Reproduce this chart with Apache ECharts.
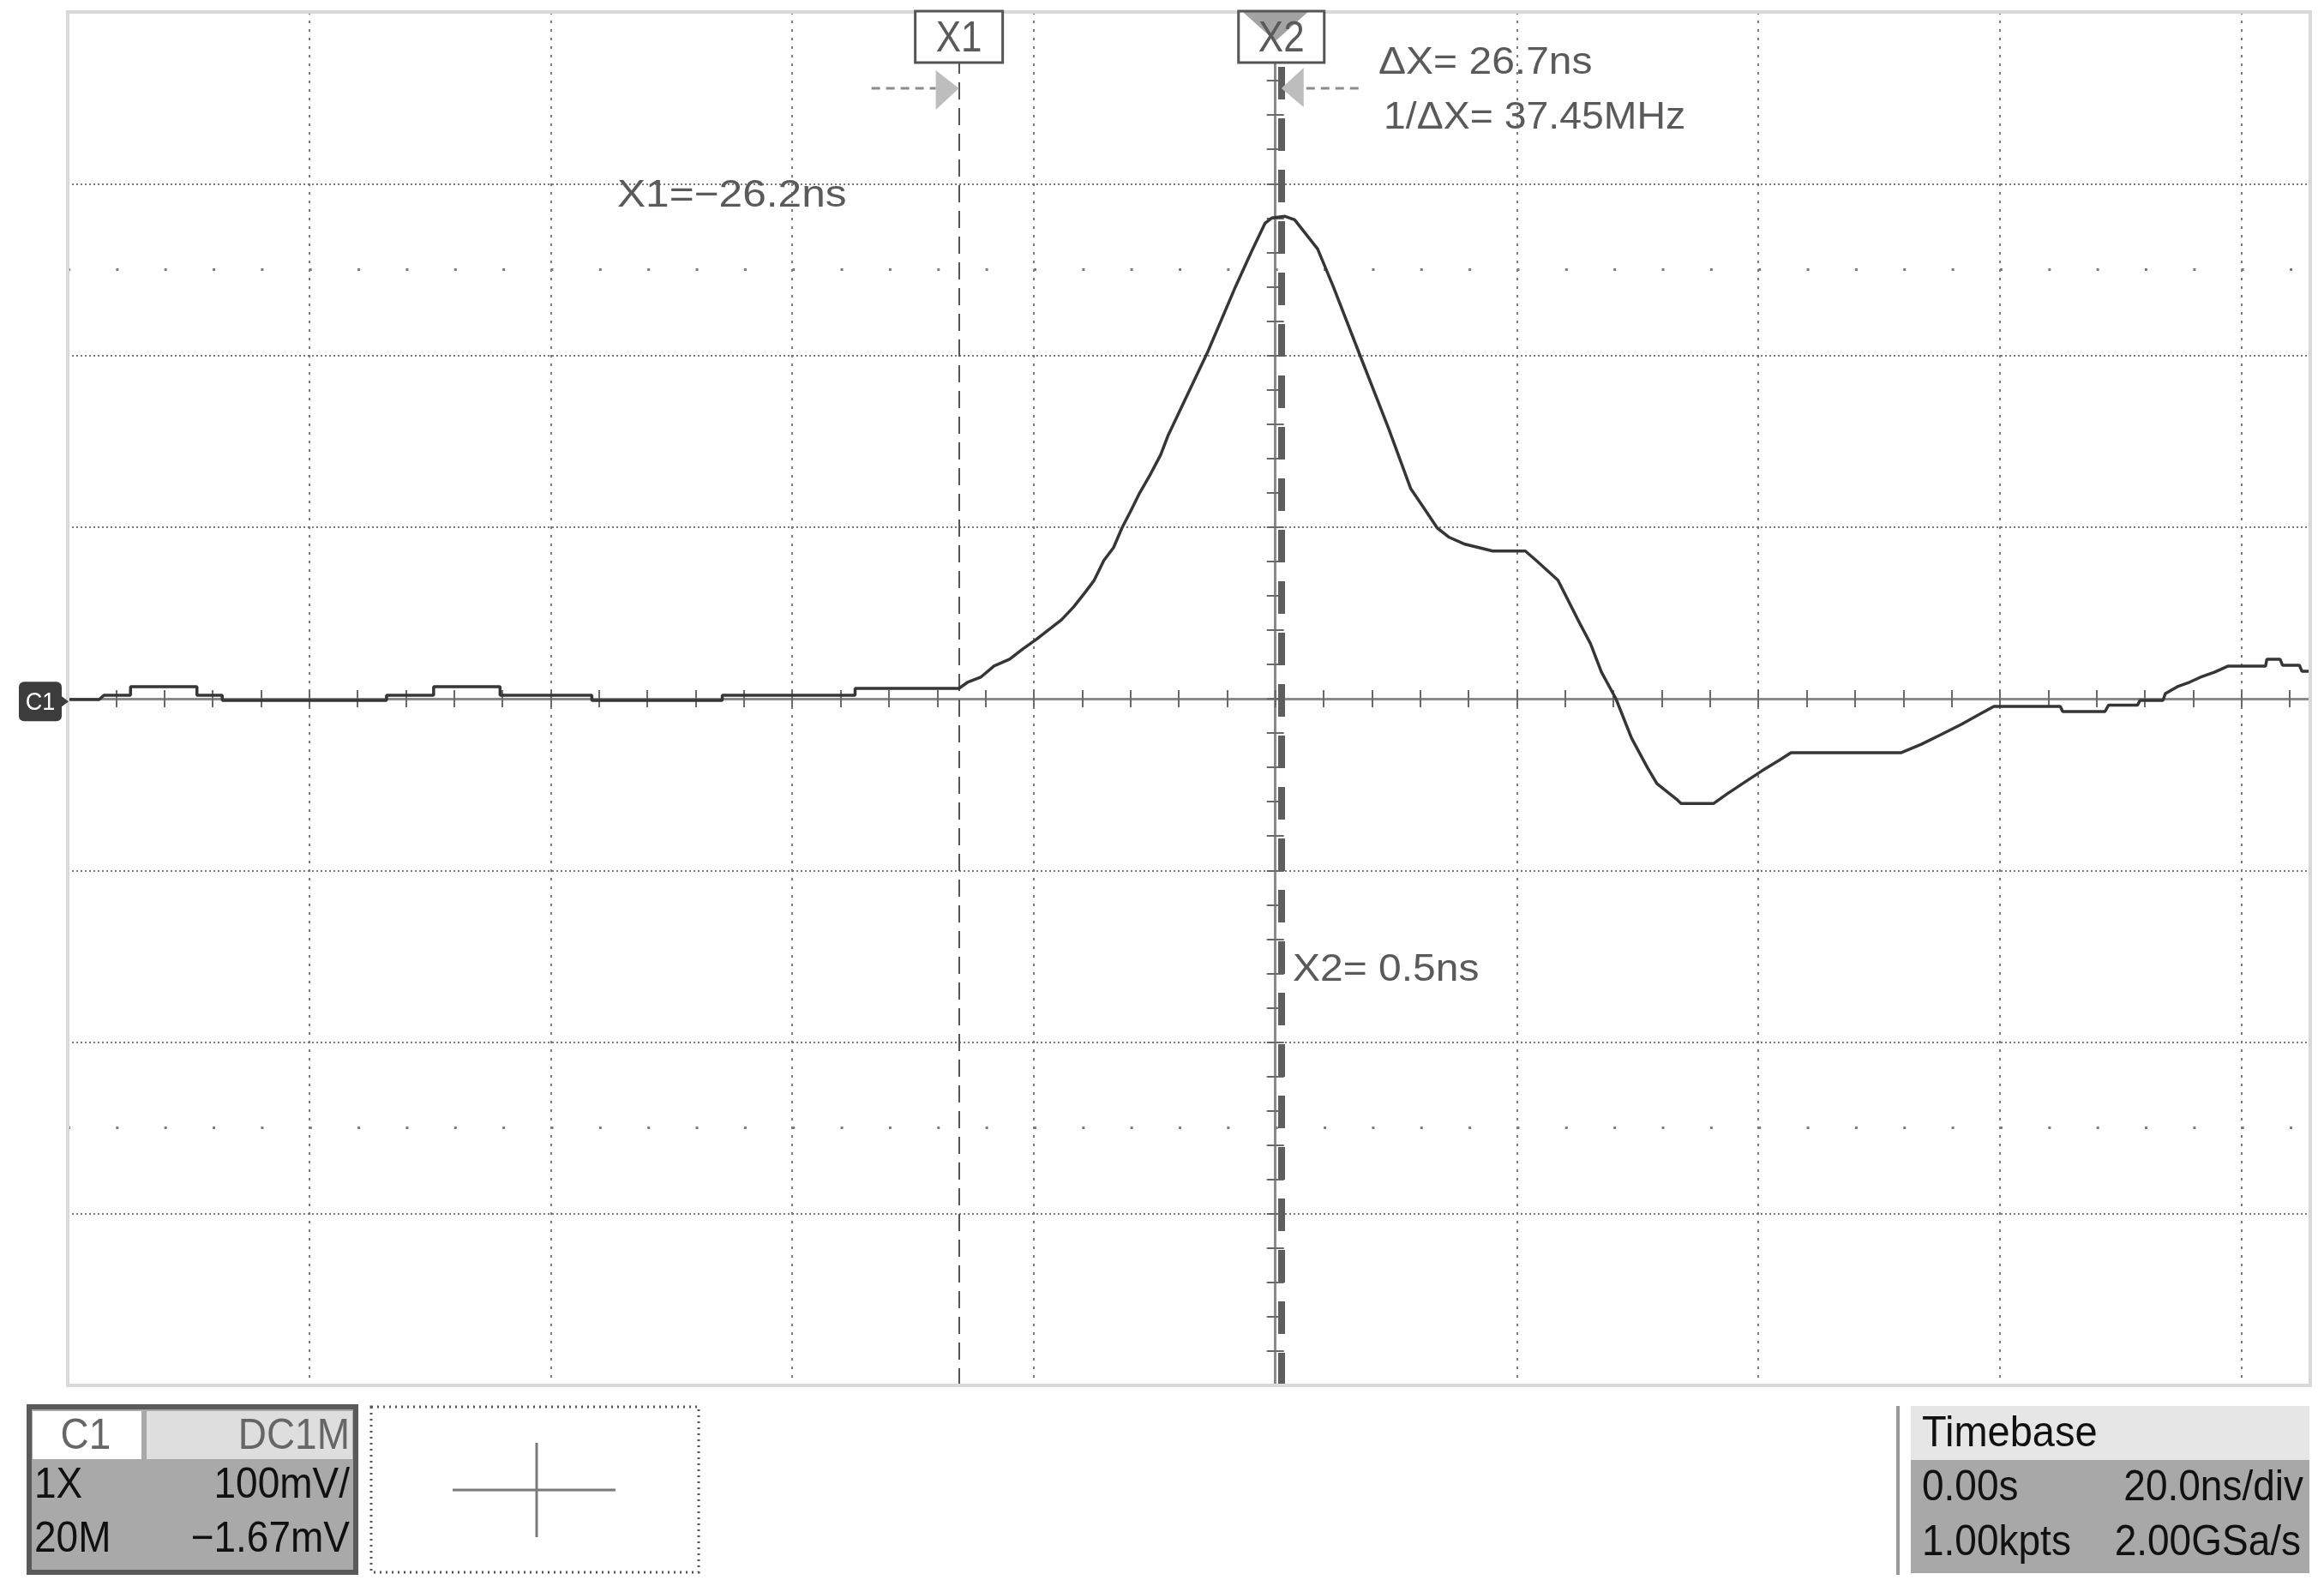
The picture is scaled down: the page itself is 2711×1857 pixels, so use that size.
<!DOCTYPE html>
<html>
<head>
<meta charset="utf-8">
<title>C1 pulse</title>
<script src="https://cdn.jsdelivr.net/npm/echarts@6.0.0/dist/echarts.min.js"></script>
<style>
  html, body { margin: 0; padding: 0; background: #fff; }
  #main { width: 2711px; height: 1857px; }
</style>
</head>
<body>
<div id="main"></div>
<script>
// trace: time in ns, level in mV
const traceTimeNs = [
  -100, -97.4, -97.0, -94.8, -94.8, -89.3, -89.3, -87.2, -87.2, -73.6,
  -73.6, -69.7, -69.7, -64.2, -64.2, -56.6, -56.6, -45.8, -45.8, -34.8,
  -34.8, -26.2, -25.5, -24.4, -23.3, -22.0, -20.9, -19.8, -18.8, -17.7,
  -16.7, -15.8, -15.0, -14.2, -13.4, -12.7, -12.0, -11.3, -10.4, -9.5,
  -8.9, -5.6, -3.3, -2.0, -0.85, -0.3, 0.8, 1.6, 3.5, 4.8,
  6.9, 9.4, 11.2, 12.5, 13.4, 14.4, 15.7, 18.0, 20.7, 21.6,
  23.4, 25.2, 26.1, 27.0, 28.2, 29.5, 30.8, 31.6, 33.3, 33.6,
  36.3, 37.4, 39.0, 40.3, 41.7, 42.7, 51.8, 53.5, 55.1, 56.8,
  58.2, 59.5, 65.0, 65.2, 68.7, 69.0, 71.4, 71.6, 73.5, 73.7,
  74.7, 75.7, 76.6, 77.8, 78.9, 82.0, 82.1, 83.2, 83.4, 84.8,
  85.0, 85.7
];
const traceMv = [
  -0.5, -0.5, 2, 2, 7, 7, 2, 2, -1, -1,
  2, 2, 7, 7, 2, 2, -1, -1, 2, 2,
  6, 6, 9.5, 12.5, 19, 23, 29, 34.5, 40, 46,
  53.5, 61.5, 69, 80.5, 88, 99.5, 109, 119, 130, 142,
  153, 202, 240, 260, 277, 280, 281, 279, 262, 240,
  202, 157, 122.5, 109, 99.5, 94, 90, 86, 86, 80.5,
  69, 44, 32, 15.5, 0, -23, -40, -49.5, -59, -61,
  -61, -55.5, -48, -42, -36, -31.5, -31.5, -26.5, -21, -15,
  -9.5, -4.5, -4.5, -7.5, -7.5, -3.7, -3.7, -1, -1, 3,
  7, 9.6, 12.5, 15.5, 19, 19, 23, 23, 19.5, 19.5,
  16, 16
];

// screen settings
const timeMin = -100, timeMax = 85.7, timePerDiv = 20;
const mvMin = -400, mvMax = 400, mvPerDiv = 100;
const cursorX1 = -26.2, cursorX2 = 0.5;
const markerRowsMv = [250, -250];
const channelOffsetMv = -1.67;

const cursorTexts = ['X1=\u221226.2ns', 'X2= 0.5ns', '\u0394X= 26.7ns', '1/\u0394X= 37.45MHz'];
const channelInfo = ['C1', 'DC1M', '1X', '100mV/', '20M', '\u22121.67mV'];
const timebaseInfo = ['Timebase', '0.00s', '20.0ns/div', '1.00kpts', '2.00GSa/s'];

const FONT = '"Liberation Sans", Arial, sans-serif';
const gridBox = { left: 79, right: 16, top: 14, bottom: 241 };
const plotW = 2711 - gridBox.left - gridBox.right;
const pxPerNs = plotW / (timeMax - timeMin);
const minorPx = pxPerNs * timePerDiv / 5;

const data = traceTimeNs.map((t, i) => [t, traceMv[i]]);

function axisCommon(isX, withSplit, tickInside) {
  return {
    type: 'value',
    min: isX ? timeMin : mvMin,
    max: isX ? timeMax : mvMax,
    interval: isX ? timePerDiv : mvPerDiv,
    axisLine: { show: true, onZero: true, lineStyle: { color: '#8a8a8a', width: 3 } },
    axisTick: { show: true, inside: tickInside, length: 10, lineStyle: { color: '#6a6a6a', width: 2 } },
    minorTick: { show: true, splitNumber: 5, length: 10, lineStyle: { color: '#6a6a6a', width: 2 } },
    axisLabel: { show: false },
    splitLine: {
      show: withSplit,
      lineStyle: { color: '#7c7c7c', width: 2, type: isX ? [3, 7] : [2, 3] }
    },
    minorSplitLine: { show: false }
  };
}

const chart = echarts.init(document.getElementById('main'));

chart.setOption({
  animation: false,
  backgroundColor: '#fff',
  grid: Object.assign({ containLabel: false, outerBoundsMode: 'none' }, gridBox),
  xAxis: [axisCommon(true, true, true), axisCommon(true, false, true)],
  yAxis: [axisCommon(false, true, true), axisCommon(false, false, true)],
  series: [
    {
      name: 'C1',
      type: 'line',
      xAxisIndex: 0,
      yAxisIndex: 0,
      data: data,
      showSymbol: false,
      symbol: 'none',
      z: 5,
      lineStyle: { color: '#363636', width: 3.5 },
      markLine: {
        silent: true,
        symbol: ['none', 'none'],
        label: { show: false },
        animation: false,
        data: [
          { xAxis: cursorX1, lineStyle: { color: '#555', width: 2, type: [20, 10] } },
          { xAxis: cursorX2, lineStyle: { color: '#5e5e5e', width: 8, type: [38, 22] } },
          { yAxis: markerRowsMv[0], lineStyle: { color: '#7c7c7c', width: 3, type: [3, minorPx - 3] } },
          { yAxis: markerRowsMv[1], lineStyle: { color: '#7c7c7c', width: 3, type: [3, minorPx - 3] } }
        ]
      }
    }
  ]
});

const px = t => chart.convertToPixel({ xAxisIndex: 0 }, t);
const py = v => chart.convertToPixel({ yAxisIndex: 0 }, v);

function txt(text, x, y, size, color, align, scaleX, z, scaleY) {
  return {
    type: 'text', x: x, y: y, z: z || 30, silent: true,
    scaleX: scaleX || 1,
    scaleY: scaleY || 1,
    style: {
      text: text, fill: color, font: size + 'px ' + FONT,
      align: align, verticalAlign: 'middle',
      textAlign: align, textVerticalAlign: 'middle'
    }
  };
}
function rect(x, y, w, h, style, z) {
  return { type: 'rect', z: z || 20, silent: true, shape: { x: x, y: y, width: w, height: h }, style: style };
}
function line(x1, y1, x2, y2, style, z) {
  return { type: 'line', z: z || 20, silent: true, shape: { x1: x1, y1: y1, x2: x2, y2: y2 }, style: style };
}
function poly(points, fill, z) {
  return { type: 'polygon', z: z || 21, silent: true, shape: { points: points }, style: { fill: fill } };
}

const gl = px(timeMin), gr = px(timeMax), gt = py(mvMax), gb = py(mvMin);
const c1 = px(cursorX1), c2 = px(cursorX2), c0 = px(0);
const zeroY = py(channelOffsetMv);

const elements = [
  // screen frame
  rect(gl, gt, gr - gl, gb - gt, { fill: null, stroke: '#d9d9d9', lineWidth: 4 }, 15),

  // X1 cursor flag and arrow
  rect(c1 - 51, 13, 102, 60, { fill: '#fff', stroke: '#555', lineWidth: 3 }, 20),
  txt('X1', c1, 46, 44, '#5a5a5a', 'center', 1, 22, 1.12),
  line(c1 - 102, 103, c1 - 27, 103, { stroke: '#8c8c8c', lineWidth: 3, lineDash: [10, 7] }),
  poly([[c1 - 27, 82], [c1, 103], [c1 - 27, 128]], '#bdbdbd'),

  // X2 cursor flag, trigger marker and arrow
  rect(c2 - 50, 13, 100, 60, { fill: '#fff' }, 20),
  poly([[c0 - 38, 14], [c0 + 38, 14], [c0, 48]], '#a3a3a3', 21),
  rect(c2 - 50, 13, 100, 60, { fill: null, stroke: '#555', lineWidth: 3 }, 22),
  txt('X2', c2, 46, 44, '#5a5a5a', 'center', 1, 23, 1.12),
  poly([[c2 + 26, 79], [c2, 103], [c2 + 26, 125]], '#bdbdbd'),
  line(c2 + 29, 103, c2 + 96, 103, { stroke: '#8c8c8c', lineWidth: 3, lineDash: [10, 7] }),

  // cursor readouts
  txt(cursorTexts[0], 720, 229, 40, '#5a5a5a', 'left', 1.24, 30, 1.12),
  txt(cursorTexts[1], 1508, 1132, 40, '#5a5a5a', 'left', 1.2, 30, 1.12),
  txt(cursorTexts[2], 1608, 74, 40, '#5a5a5a', 'left', 1.2, 30, 1.12),
  txt(cursorTexts[3], 1614, 138, 40, '#5a5a5a', 'left', 1.16, 30, 1.12),

  // channel ground marker
  { type: 'rect', z: 25, silent: true, shape: { x: 22, y: zeroY - 23, width: 50, height: 46, r: 6 }, style: { fill: '#3c3c3c' } },
  poly([[72, zeroY - 6], [80, zeroY], [72, zeroY + 6]], '#3c3c3c', 25),
  txt('C1', 47, zeroY + 1, 30, '#fff', 'center', 0.9, 26),

  // channel panel
  rect(34, 1641, 381, 193, { fill: '#a9a9a9', stroke: '#5a5a5a', lineWidth: 6 }),
  rect(38, 1646, 127, 56, { fill: '#fff' }, 21),
  rect(171, 1646, 240, 56, { fill: '#dedede' }, 21),
  txt(channelInfo[0], 100, 1676, 46, '#666', 'center', 1, 22, 1.08),
  txt(channelInfo[1], 408, 1676, 46, '#666', 'right', 1, 22, 1.08),
  txt(channelInfo[2], 40, 1733, 46, '#111', 'left', 1, 22, 1.08),
  txt(channelInfo[3], 408, 1733, 46, '#111', 'right', 1, 22, 1.08),
  txt(channelInfo[4], 40, 1796, 46, '#111', 'left', 1, 22, 1.08),
  txt(channelInfo[5], 408, 1796, 46, '#111', 'right', 1, 22, 1.08),

  // trigger / position box
  rect(433, 1641, 382, 193, { fill: null, stroke: '#555', lineWidth: 3, lineDash: [2, 5] }),
  line(528, 1738, 718, 1738, { stroke: '#7a7a7a', lineWidth: 3 }),
  line(626, 1683, 626, 1793, { stroke: '#7a7a7a', lineWidth: 3 }),

  // timebase panel
  line(2214, 1640, 2214, 1837, { stroke: '#9a9a9a', lineWidth: 4 }),
  rect(2229, 1640, 465, 63, { fill: '#e6e6e6' }),
  rect(2229, 1703, 465, 132, { fill: '#a8a8a8' }),
  txt(timebaseInfo[0], 2242, 1673, 47, '#111', 'left', 1, 22, 1.08),
  txt(timebaseInfo[1], 2242, 1736, 46, '#111', 'left', 1, 22, 1.08),
  txt(timebaseInfo[2], 2687, 1736, 46, '#111', 'right', 1, 22, 1.08),
  txt(timebaseInfo[3], 2242, 1800, 46, '#111', 'left', 1, 22, 1.08),
  txt(timebaseInfo[4], 2684, 1800, 46, '#111', 'right', 1, 22, 1.08)
];

chart.setOption({ graphic: { elements: elements } });
</script>
</body>
</html>
